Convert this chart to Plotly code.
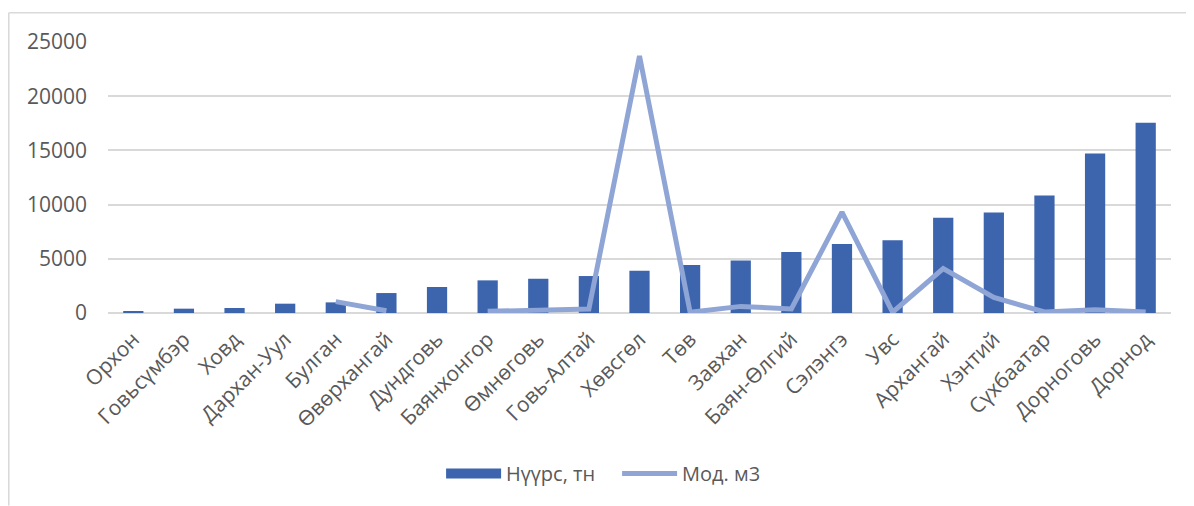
import plotly.graph_objects as go

categories = ["Орхон", "Говьсүмбэр", "Ховд", "Дархан-Уул", "Булган", "Өвөрхангай",
              "Дундговь", "Баянхонгор", "Өмнөговь", "Говь-Алтай", "Хөвсгөл", "Төв",
              "Завхан", "Баян-Өлгий", "Сэлэнгэ", "Увс", "Архангай", "Хэнтий",
              "Сүхбаатар", "Дорноговь", "Дорнод"]
coal = [150, 400, 460, 860, 980, 1840, 2400, 3010, 3160, 3410, 3900, 4420,
        4850, 5620, 6360, 6700, 8780, 9270, 10840, 14710, 17540]
wood = [None, None, None, None, 1050, 200, None, 150, 240, 370, 23700, 70,
        610, 370, 9300, 70, 4100, 1440, 90, 300, 100]
y_ticks = [0, 5000, 10000, 15000, 20000, 25000]

BAR_COLOR = "#3C65AE"
LINE_COLOR = "#8FA5D5"
TEXT_COLOR = "#595959"
GRID_COLOR = "#D9D9D9"
FONT = "Open Sans"

fig = go.Figure()
fig.add_trace(go.Bar(x=categories, y=coal, name="Нүүрс, тн", marker_color=BAR_COLOR,
                     marker_line_width=0, showlegend=False, legendgroup="coal"))
# legend entry for the bars (wide rectangular swatch like the original)
fig.add_trace(go.Scatter(x=[None], y=[None], mode="lines", name="Нүүрс, тн",
                         line=dict(color=BAR_COLOR, width=13), legendgroup="coal"))
fig.add_trace(go.Scatter(x=categories, y=wood, name="Мод. м3", mode="lines",
                         line=dict(color=LINE_COLOR, width=5), connectgaps=False))

# page has an 8px body margin; work in page pixels and convert
OFF = 8
W, H = 1194 - OFF, 506 - OFF
L = 108 - OFF
T = 42 - OFF
R = W - (1170.7 - OFF)
B = H - (313.3 - OFF)
pw, ph = W - L - R, H - T - B

def px(x):
    return (x - OFF - L) / pw

def py(y):
    return (H - B - (y - OFF)) / ph

fig.update_layout(
    width=W, height=H,
    margin=dict(l=L, r=R, t=T, b=B, autoexpand=False),
    paper_bgcolor="white", plot_bgcolor="white",
    font=dict(family=FONT, size=21, color=TEXT_COLOR),
    bargap=0.6,
    showlegend=True,
    legend=dict(orientation="h", x=px(441), y=py(474), xanchor="left", yanchor="middle",
                font=dict(size=20, color=TEXT_COLOR), itemwidth=55,
                entrywidth=106, entrywidthmode="pixels",
                traceorder="normal", bgcolor="rgba(0,0,0,0)"),
    xaxis=dict(tickangle=-45, showgrid=False, showline=False, zeroline=False, ticks="",
               ticklabelstandoff=9, tickfont=dict(size=21, color=TEXT_COLOR)),
    yaxis=dict(range=[0, 25000], tickvals=y_ticks, ticktext=[str(v) for v in y_ticks],
               showgrid=True, gridcolor=GRID_COLOR, gridwidth=1.5,
               zeroline=True, zerolinecolor=GRID_COLOR, zerolinewidth=1.5,
               showline=False, ticks="", ticklabelstandoff=20,
               tickfont=dict(size=21, color=TEXT_COLOR)),
    shapes=[
        dict(type="line", xref="paper", yref="paper", x0=px(8.8), x1=px(1200),
             y0=py(12.7), y1=py(12.7), line=dict(color=GRID_COLOR, width=1.5)),
        dict(type="line", xref="paper", yref="paper", x0=px(8.8), x1=px(8.8),
             y0=py(12.7), y1=py(506), line=dict(color=GRID_COLOR, width=1.5)),
    ],
)

fig.write_html("out.html")
